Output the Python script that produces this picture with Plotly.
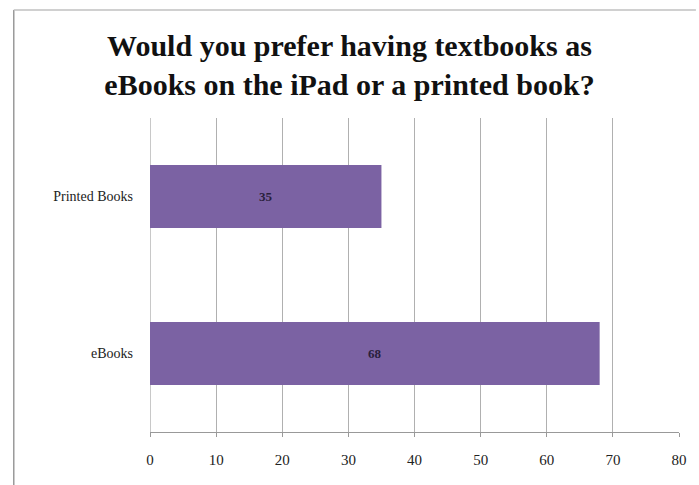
import plotly.graph_objects as go

categories = ["eBooks", "Printed Books"]
values = [68, 35]
tick_vals = [0, 10, 20, 30, 40, 50, 60, 70, 80]

W, H = 699, 485
L, R, T, B = 150, 17, 118, 53
pw, ph = W - L - R, H - T - B

def px_to_paper_x(px):
    return (px - L) / pw

def py_to_paper_y(py):
    return (H - B - py) / ph

fig = go.Figure(go.Bar(
    y=categories, x=values, orientation="h",
    marker=dict(color="#7b62a3", line=dict(width=0)),
    width=0.4,
    text=["<b>%d</b>" % v for v in values],
    textposition="inside", insidetextanchor="middle",
    textfont=dict(family="Liberation Serif", size=13, color="#2a1f3d"),
))

fig.update_layout(
    width=W, height=H,
    margin=dict(l=L, r=R, t=T, b=B),
    paper_bgcolor="white", plot_bgcolor="white",
    showlegend=False,
    title=dict(
        text="<b>Would you prefer having textbooks as<br>eBooks on the iPad or a printed book?</b>",
        x=0.5, xanchor="center", y=0.885, yanchor="top",
        font=dict(family="Liberation Serif", size=30, color="#111111"),
    ),
    font=dict(family="Liberation Serif", size=14, color="#222222"),
    xaxis=dict(
        range=[0, 80], tickvals=tick_vals, showgrid=True, gridcolor="#b0b0b0", gridwidth=1,
        showline=True, linecolor="#999999", linewidth=1,
        zeroline=True, zerolinecolor="#c8c8c8", zerolinewidth=1,
        ticks="outside", ticklen=4, tickcolor="#999999",
        ticklabelstandoff=10,
        tickfont=dict(family="Liberation Serif", size=15, color="#222222"),
    ),
    yaxis=dict(
        showgrid=False, zeroline=False, showline=False, ticks="",
        ticklabelstandoff=16,
        tickfont=dict(family="Liberation Serif", size=14, color="#222222"),
    ),
    shapes=[
        dict(type="line", xref="paper", yref="paper",
             x0=px_to_paper_x(13), x1=px_to_paper_x(13), y0=py_to_paper_y(10), y1=py_to_paper_y(485),
             line=dict(color="#9a9a9a", width=1.5)),
        dict(type="line", xref="paper", yref="paper",
             x0=px_to_paper_x(13), x1=px_to_paper_x(699), y0=py_to_paper_y(10), y1=py_to_paper_y(10),
             line=dict(color="#c0c0c0", width=1.5)),
    ],
)

fig.write_html("out.html")
